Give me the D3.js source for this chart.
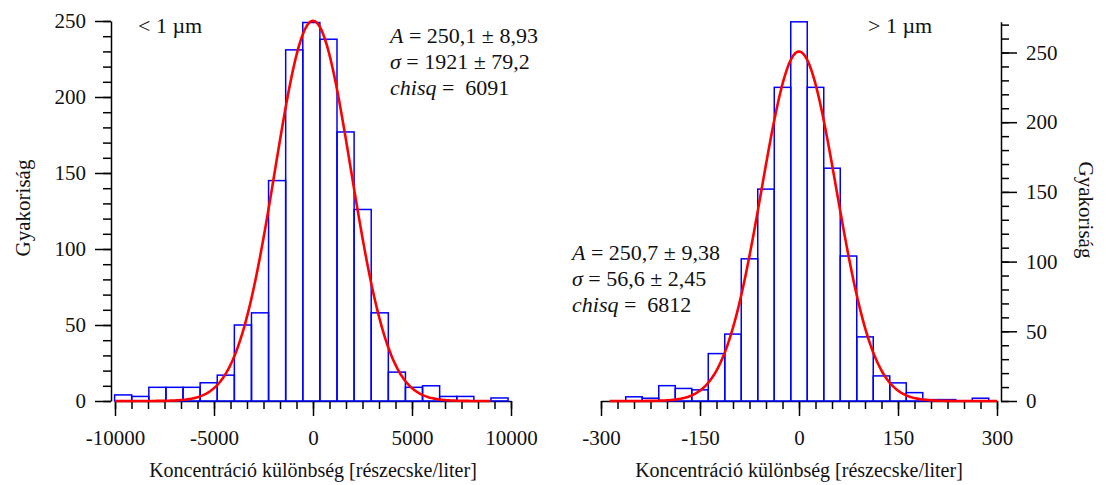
<!DOCTYPE html>
<html lang="hu">
<head>
<meta charset="UTF-8">
<title>Koncentráció különbség hisztogramok</title>
<script src="https://d3js.org/d3.v7.min.js"></script>
<style>
  body { margin: 0; background: #fff; }
  svg text { font-family: 'Liberation Serif', 'Times New Roman', serif; font-size: 22px; fill: #111; }
  .axis text { font-size: 21px; }
  .xtitle { font-size: 20px; }
  .ytitle { font-size: 21px; }
  .axis path, .axis line { stroke: #000; stroke-width: 1.5; }
  .bar { fill: none; stroke: #0000ff; stroke-width: 1.5; }
  .fit { fill: none; stroke: #ff0000; stroke-width: 2.6; }
</style>
</head>
<body>
<svg width="1106" height="485"></svg>
<script>
// bal panel: < 1 um
const leftCounts = [4, 3, 9, 9, 9, 12, 17, 50, 58, 145, 231, 249, 238, 177, 126, 58, 19, 9, 10, 3, 3, 0, 2];
const leftBinStart = -10020;
const leftBinWidth = 864;
const leftFit = [250.1, 1921];          // A, sigma
const leftFitRange = [-10000, 8960];
const leftXTicks = [-10000, -5000, 0, 5000, 10000];
const leftYTicks = [0, 50, 100, 150, 200, 250];
const leftNote = [["A", " = 250,1 ± 8,93"], ["σ", " = 1921 ± 79,2"], ["chisq", " =  6091"]];

// jobb panel: > 1 um
const rightCounts = [3, 2, 11, 9, 8, 34, 48, 102, 152, 225, 272, 225, 167, 104, 46, 18, 13, 6, 1, 1, 0, 2];
const rightBinStart = -262.5;
const rightBinWidth = 25;
const rightFit = [250.7, 56.6];
const rightFitRange = [-287, 300];
const rightXTicks = [-300, -150, 0, 150, 300];
const rightYTicks = [0, 50, 100, 150, 200, 250];
const rightNote = [["A", " = 250,7 ± 9,38"], ["σ", " = 56,6 ± 2,45"], ["chisq", " =  6812"]];

const xTitle = "Koncentráció különbség [részecske/liter]";
const yTitle = "Gyakoriság";

const svg = d3.select("svg");

function panel(cfg) {
    const g = svg.append("g");
    const x = d3.scaleLinear().domain(cfg.xDomain).range(cfg.xRange);
    const y = d3.scaleLinear().domain(cfg.yDomain).range(cfg.yRange);

    // x tengely
    g.append("g").attr("class", "axis")
        .attr("transform", "translate(0,401)")
        .call(d3.axisBottom(x).tickValues(cfg.xTicks).tickSize(15).tickSizeOuter(0).tickPadding(14).tickFormat(d => String(d)));
    g.append("g").attr("class", "axis")
        .attr("transform", "translate(0,401)")
        .call(d3.axisBottom(x).tickValues(cfg.xMinor).tickSize(8).tickFormat(""))
        .select(".domain").remove();

    // y tengely
    const side = cfg.right ? d3.axisRight : d3.axisLeft;
    g.append("g").attr("class", "axis")
        .attr("transform", `translate(${cfg.yAxisX},0)`)
        .call(side(y).tickValues(cfg.yTicks).tickSize(16).tickSizeOuter(0).tickPadding(9));
    g.append("g").attr("class", "axis")
        .attr("transform", `translate(${cfg.yAxisX},0)`)
        .call(side(y).tickValues(cfg.yMinor).tickSize(8).tickFormat(""))
        .select(".domain").remove();

    // oszlopok
    g.selectAll(".bar")
        .data(cfg.counts.map((c, i) => ({ c, i })).filter(d => d.c > 0))
        .enter().append("rect")
        .attr("class", "bar")
        .attr("x", d => x(cfg.binStart + d.i * cfg.binWidth))
        .attr("width", d => x(cfg.binStart + (d.i + 1) * cfg.binWidth) - x(cfg.binStart + d.i * cfg.binWidth))
        .attr("y", d => y(d.c))
        .attr("height", d => y(0) - y(d.c));

    // illesztett gauss
    const [A, s] = cfg.fit;
    const step = (cfg.fitRange[1] - cfg.fitRange[0]) / 300;
    const pts = d3.range(cfg.fitRange[0], cfg.fitRange[1] + step / 2, step);
    g.append("path").attr("class", "fit")
        .attr("d", d3.line().x(v => x(v)).y(v => y(A * Math.exp(-v * v / (2 * s * s))))(pts));

    // feliratok
    g.append("text").attr("x", cfg.tagPos[0]).attr("y", cfg.tagPos[1]).text(cfg.tag);
    cfg.note.forEach((n, i) => {
        const t = g.append("text").attr("x", cfg.notePos[0]).attr("y", cfg.notePos[1] + i * 25.8)
            .attr("xml:space", "preserve");
        t.append("tspan").style("font-style", "italic").text(n[0]);
        t.append("tspan").text(n[1]);
    });
    g.append("text").attr("class", "xtitle")
        .attr("x", (cfg.xRange[0] + cfg.xRange[1]) / 2).attr("y", 477)
        .attr("text-anchor", "middle").text(xTitle);
    g.append("text").attr("class", "ytitle")
        .attr("transform", `translate(${cfg.yTitlePos[0]},${cfg.yTitlePos[1]}) rotate(${cfg.right ? 90 : -90})`)
        .attr("text-anchor", "middle").attr("dy", "0.35em").text(yTitle);
}

panel({
    xDomain: [-10000, 10000], xRange: [115, 511],
    yDomain: [0, 250], yRange: [401, 21], yAxisX: 111,
    xTicks: leftXTicks, xMinor: d3.range(0, 25).map(i => -10000 + i * 20000 / 24),
    yTicks: leftYTicks, yMinor: d3.range(0, 251, 10),
    counts: leftCounts, binStart: leftBinStart, binWidth: leftBinWidth,
    fit: leftFit, fitRange: leftFitRange,
    tag: "< 1 µm", tagPos: [138, 33],
    note: leftNote, notePos: [390, 43],
    yTitlePos: [23, 208], right: false
});

panel({
    xDomain: [-300, 300], xRange: [601, 997],
    yDomain: [0, 272], yRange: [401, 401 - 272 * 1.394], yAxisX: 1001,
    xTicks: rightXTicks, xMinor: d3.range(-300, 301, 25),
    yTicks: rightYTicks, yMinor: d3.range(0, 271, 10),
    counts: rightCounts, binStart: rightBinStart, binWidth: rightBinWidth,
    fit: rightFit, fitRange: rightFitRange,
    tag: "> 1 µm", tagPos: [868, 33],
    note: rightNote, notePos: [572, 260],
    yTitlePos: [1086, 210], right: true
});
</script>
</body>
</html>
